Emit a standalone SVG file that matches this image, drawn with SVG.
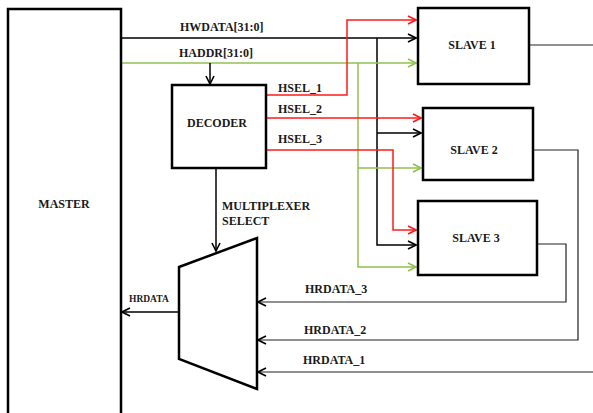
<svg xmlns="http://www.w3.org/2000/svg" width="593" height="413" viewBox="0 0 593 413">
<style>
.box{fill:#fff;stroke:#000;stroke-width:2.5}
.t{font-family:"Liberation Serif","Times New Roman",serif;font-weight:bold;font-size:12px;fill:#1a1a1a}
.c{text-anchor:middle}
.k{fill:none;stroke:#000;stroke-width:1.5}
.r{fill:none;stroke:#ff1a1a;stroke-width:1.5}
.g{fill:none;stroke:#92c050;stroke-width:1.5}
.thin{fill:none;stroke:#222;stroke-width:1.2}
</style>
<defs>
<marker id="ak" viewBox="0 0 10 10" refX="9" refY="5" markerWidth="10" markerHeight="10" markerUnits="userSpaceOnUse" orient="auto"><path d="M1,1 L9,5 L1,9" fill="none" stroke="#000" stroke-width="1.6"/></marker>
<marker id="ar" viewBox="0 0 10 10" refX="9" refY="5" markerWidth="10" markerHeight="10" markerUnits="userSpaceOnUse" orient="auto"><path d="M1,1 L9,5 L1,9" fill="none" stroke="#ff1a1a" stroke-width="1.6"/></marker>
<marker id="ag" viewBox="0 0 10 10" refX="9" refY="5" markerWidth="10" markerHeight="10" markerUnits="userSpaceOnUse" orient="auto"><path d="M1,1 L9,5 L1,9" fill="none" stroke="#92c050" stroke-width="1.6"/></marker>
</defs>
<rect width="593" height="413" fill="#fff"/>
<g id="connectors">
<path class="k" d="M121,38 H416" marker-end="url(#ak)"/>
<path class="k" d="M377,38 V245 H416" marker-end="url(#ak)"/>
<path class="k" d="M377,133 H421" marker-end="url(#ak)"/>
<path class="g" d="M121,63 H416" marker-end="url(#ag)"/>
<path class="g" d="M358,63 V267 H416" marker-end="url(#ag)"/>
<path class="g" d="M358,168 H421" marker-end="url(#ag)"/>
<path class="k" d="M210,63 V84" marker-end="url(#ak)"/>
<path class="r" d="M266,95 H347 V20 H416" marker-end="url(#ar)"/>
<path class="r" d="M266,118 H421" marker-end="url(#ar)"/>
<path class="r" d="M266,150 H393 V230 H416" marker-end="url(#ar)"/>
<path class="k" d="M216,168 V251" marker-end="url(#ak)"/>
<path class="thin" d="M529,45 H593"/>
<path class="thin" d="M533,150 H578 V340 H258" marker-end="url(#ak)"/>
<path class="thin" d="M537,244 H566 V302 H258" marker-end="url(#ak)"/>
<path class="thin" d="M593,372 H258" marker-end="url(#ak)"/>
<path class="k" d="M179,312 H122" marker-end="url(#ak)"/>
</g>
<g id="master"><rect class="box" x="8" y="9" width="113" height="410"/><text class="t c" x="64" y="208">MASTER</text></g>
<g id="decoder"><rect class="box" x="172" y="85" width="94" height="83"/><text class="t c" x="217" y="127">DECODER</text></g>
<g id="slave1"><rect class="box" x="418" y="8" width="111" height="76"/><text class="t c" x="472" y="49">SLAVE 1</text></g>
<g id="slave2"><rect class="box" x="423" y="108" width="110" height="72"/><text class="t c" x="474" y="154">SLAVE 2</text></g>
<g id="slave3"><rect class="box" x="418" y="201" width="119" height="74"/><text class="t c" x="476" y="242">SLAVE 3</text></g>
<g id="mux"><path class="box" d="M179,267 L257,238 V389 L179,359 Z"/></g>
<g id="labels">
<text class="t" x="180" y="31">HWDATA[31:0]</text>
<text class="t" x="179" y="57">HADDR[31:0]</text>
<text class="t" x="278" y="92">HSEL_1</text>
<text class="t" x="278" y="113">HSEL_2</text>
<text class="t" x="278" y="143">HSEL_3</text>
<text class="t" x="222" y="210">MULTIPLEXER</text>
<text class="t" x="222" y="225">SELECT</text>
<text class="t" x="129" y="302" style="font-size:9.5px">HRDATA</text>
<text class="t" x="305" y="293">HRDATA_3</text>
<text class="t" x="304" y="334">HRDATA_2</text>
<text class="t" x="303" y="364">HRDATA_1</text>
</g>
</svg>
